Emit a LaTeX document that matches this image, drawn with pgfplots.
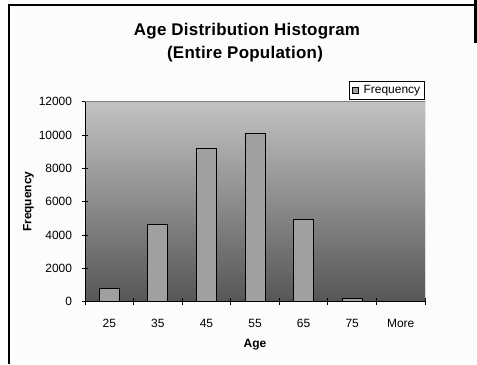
\documentclass[border=0pt]{standalone}
\usepackage{pgfplots}
\pgfplotsset{compat=1.18}
\usepackage{fontspec}
\setmainfont{Liberation Sans}
\definecolor{bgtop}{RGB}{194,194,194}
\definecolor{bgbot}{RGB}{86,86,86}
\definecolor{barfill}{RGB}{160,160,160}
\definecolor{chartbg}{RGB}{252,252,252}
\newcommand\smallfont{\fontsize{12}{14}\selectfont}
\newcommand\titlefont{\fontsize{17}{20}\selectfont\bfseries\addfontfeatures{LetterSpace=1.5}}
\begin{document}
\begin{tikzpicture}[x=1bp,y=1bp]
\useasboundingbox (0,0) rectangle (477,364);
\fill[white] (0,0) rectangle (477,364);
\fill[chartbg] (9,0) rectangle (474,359);
\draw[line width=1.2bp] (9,0) -- (9,359) -- (474,359);
\fill[black] (473.5,321.5) rectangle (477,364);
\node[anchor=base, font=\titlefont] at (247,329) {Age Distribution Histogram};
\node[anchor=base, font=\titlefont] at (245,305.7) {(Entire Population)};
\begin{axis}[
  at={(85bp,62.3bp)}, anchor=south west,
  scale only axis, width=340bp, height=200bp,
  xmin=-0.5, xmax=6.5, ymin=0, ymax=12000,
  axis x line*=bottom, axis y line*=left,
  axis line style={black, line width=0.9bp},
  axis background/.style={top color=bgtop, bottom color=bgbot},
  xtick={0,...,6}, xticklabels={25,35,45,55,65,75,More},
  minor xtick={-0.5,0.5,...,6.5},
  major x tick style={draw=none},
  ytick={0,2000,...,12000},
  scaled y ticks=false,
  /pgf/number format/1000 sep={},
  /pgf/number format/assume math mode=true,
  tick align=center, major tick length=6.6bp, minor tick length=6.6bp,
  tick style={black, line width=0.9bp},
  ticklabel style={font=\smallfont, inner sep=0pt},
  xticklabel style={anchor=base, yshift=-22.3bp},
  yticklabel style={anchor=east, xshift=-9.5bp},
  xlabel={\bfseries Age},
  xlabel style={font=\smallfont, at={([yshift=-45.8bp]axis description cs:0.5,0)}, anchor=base, inner sep=0pt},
  ylabel={\bfseries Frequency},
  ylabel style={font=\smallfont, at={([xshift=-53.5bp]axis description cs:0,0.5)}, anchor=base, inner sep=0pt},
  legend style={at={([yshift=1.5bp]rel axis cs:1,1)}, anchor=south east, draw=black, line width=0.8bp, fill=white, font=\fontsize{12}{14}\selectfont, inner xsep=2.5bp, inner ysep=2.5bp, column sep=3bp},
  legend image code/.code={\draw[fill=barfill, draw=black, line width=0.8bp] (0bp,-3bp) rectangle (6bp,3bp);},
]
\addplot[ybar, bar width=20bp, fill=barfill, draw=black, line width=0.9bp] coordinates {(0,800) (1,4650) (2,9200) (3,10100) (4,4950) (5,200) (6,0)};
\addlegendentry{Frequency}
\draw[gray, line width=0.9bp] (rel axis cs:0,1) -- (rel axis cs:1,1) -- (rel axis cs:1,0);
\end{axis}
\end{tikzpicture}
\end{document}
